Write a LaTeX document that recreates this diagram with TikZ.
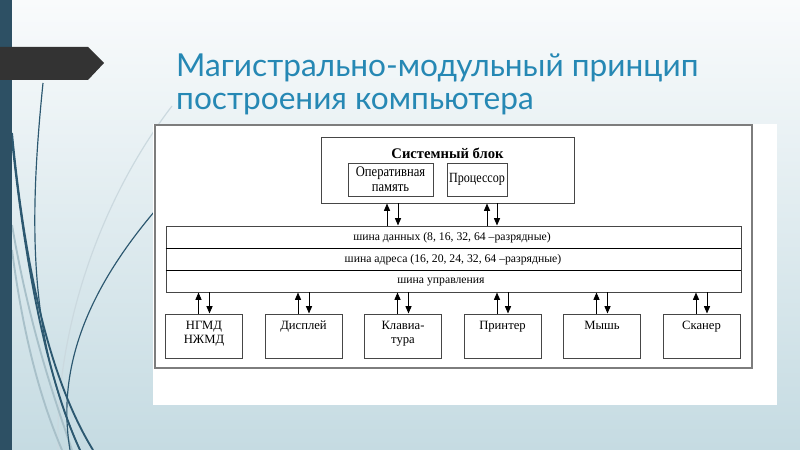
\documentclass[tikz,border=0pt]{standalone}
\usepackage{fontspec}
\setmainfont{Liberation Serif}
\newfontfamily\titlefont{Lato}
\newfontfamily\condfont[FakeStretch=0.86]{Liberation Serif}
\usetikzlibrary{arrows.meta}
\definecolor{bgtop}{RGB}{249,251,252}
\definecolor{bgbot}{RGB}{197,219,226}
\definecolor{barcol}{RGB}{45,80,100}
\definecolor{arrcol}{RGB}{51,51,51}
\definecolor{titleblue}{RGB}{38,136,180}
\definecolor{curvedark}{RGB}{44,88,112}
\definecolor{curvelight}{RGB}{168,192,201}
\definecolor{framecol}{RGB}{125,125,125}
\definecolor{boxcol}{RGB}{70,70,70}
\tikzset{
  box/.style={draw=boxcol, line width=0.8pt, inner sep=0pt},
  busbox/.style={draw=boxcol, line width=0.8pt, inner sep=0pt, minimum width=17.25cm, minimum height=0.66cm},
  dev/.style={draw=boxcol, line width=0.8pt, inner sep=0pt, minimum width=2.31cm, minimum height=1.32cm},
  devlbl/.style={anchor=north, inner sep=0pt, yshift=-0.22cm, align=center, font=\fontsize{10.8}{12}\selectfont},
  buslbl/.style={inner sep=0pt, font=\fontsize{10}{11}\selectfont},
  sepline/.style={black, line width=1.1pt},
  arr/.style={black, line width=0.8pt, -{Triangle[length=2.2mm,width=1.8mm]}},
  deco/.style={curvedark, line width=1.6pt},
  decothin/.style={curvedark, line width=1pt},
  decolight/.style={curvelight, line width=1.6pt}
}
\begin{document}
\begin{tikzpicture}[x=0.03cm,y=-0.03cm]
\useasboundingbox (0,0) rectangle (800,450);
% background
\shade[top color=bgtop, bottom color=bgbot] (0,0) rectangle (800,450);
% decorative curves
\draw[curvelight!60!white, line width=1pt] (172,106) .. controls (100,200) and (55,330) .. (58,450);
\draw[decolight] (12,225) .. controls (30,330) and (55,400) .. (72,450);
\draw[decolight] (12,250) .. controls (25,350) and (45,410) .. (62,450);
\draw[decothin] (43,83) .. controls (28,230) and (30,340) .. (80,450);
\draw[deco] (12,133) .. controls (25,270) and (50,380) .. (93,450);
\draw[deco] (12,140) .. controls (28,290) and (52,390) .. (80,450);
\draw[decothin] (160,205) .. controls (95,280) and (55,360) .. (70,450);
% left bar and arrow
\fill[barcol] (0,0) rectangle (12,450);
\fill[arrcol] (0,47) -- (88,47) -- (104,63) -- (88,80) -- (0,80) -- cycle;
% title
\node[anchor=base west, inner sep=0pt, text=titleblue, font=\titlefont\fontsize{27}{33}\selectfont] (t1) at (176,77) {Магистрально-модульный принцип};
\node[anchor=base west, inner sep=0pt, text=titleblue, font=\titlefont\fontsize{27}{33}\selectfont] (t2) at (176,110) {построения компьютера};
% white picture panel
\fill[white] (153,124) rectangle (777,405);
\draw[framecol, line width=0.9pt] (155,125) rectangle (752,368);
% system block
\node[box, minimum width=7.59cm, minimum height=1.98cm] (sys) at (447.5,170) {};
\node[inner sep=0pt, font=\bfseries\fontsize{12.5}{13}\selectfont] (systxt) at (447.5,153) {Системный блок};
\node[box, minimum width=2.55cm, minimum height=0.99cm, align=center, font=\condfont\fontsize{12.5}{12.5}\selectfont] (mem) at (390.5,179.5) {Оперативная\\память};
\node[box, minimum width=1.8cm, minimum height=0.99cm, font=\condfont\fontsize{12}{12}\selectfont] (proc) at (477,179.5) {Процессор};
% buses
\node[busbox] (bus1) at (453.5,237) {};
\node[busbox] (bus2) at (453.5,259) {};
\node[busbox] (bus3) at (453.5,281) {};
\draw[sepline] (bus1.south west) -- (bus1.south east);
\draw[sepline] (bus2.south west) -- (bus2.south east);
\node[buslbl] (b1t) at (452,238) {шина данных (8, 16, 32, 64 –разрядные)};
\node[buslbl] (b2t) at (453,260) {шина адреса (16, 20, 24, 32, 64 –разрядные)};
\node[buslbl] (b3t) at (441,282) {шина управления};
% arrows system block <-> bus
\coordinate (m1) at (387,226);
\coordinate (m2) at (398,203);
\coordinate (p1) at (487,226);
\coordinate (p2) at (497,203);
\draw[arr] (m1 |- bus1.north) -- (m1 |- sys.south);
\draw[arr] (m2 |- sys.south) -- (m2 |- bus1.north);
\draw[arr] (p1 |- bus1.north) -- (p1 |- sys.south);
\draw[arr] (p2 |- sys.south) -- (p2 |- bus1.north);
% devices
\node[dev] (d1) at (204,336) {};
\node[dev] (d2) at (303.5,336) {};
\node[dev] (d3) at (403,336) {};
\node[dev] (d4) at (502.5,336) {};
\node[dev] (d5) at (602,336) {};
\node[dev] (d6) at (701.5,336) {};
\node[devlbl] (d1t) at (d1.north) {НГМД\\НЖМД};
\node[devlbl] (d2t) at (d2.north) {Дисплей};
\node[devlbl] (d3t) at (d3.north) {Клавиа-\\тура};
\node[devlbl] (d4t) at (d4.north) {Принтер};
\node[devlbl] (d5t) at (d5.north) {Мышь};
\node[devlbl] (d6t) at (d6.north) {Сканер};
\foreach \d in {d1,d2,d3,d4,d5,d6}{
  \coordinate (\d u) at ([xshift=-0.165cm]\d.north);
  \coordinate (\d w) at ([xshift=0.165cm]\d.north);
  \draw[arr] (\d u) -- (\d u |- bus3.south);
  \draw[arr] (\d w |- bus3.south) -- (\d w);
}
\end{tikzpicture}
\end{document}
